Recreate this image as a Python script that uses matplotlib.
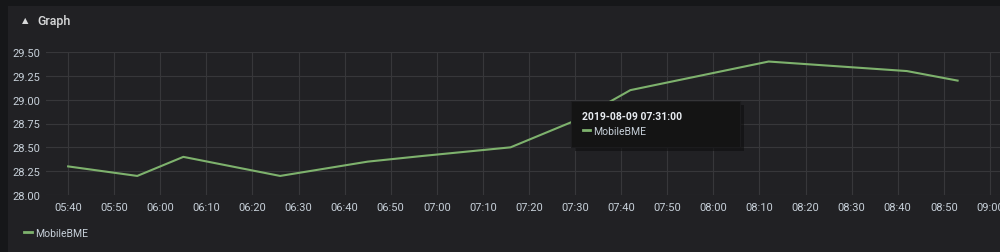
import matplotlib
matplotlib.use("Agg")
import matplotlib.pyplot as plt
import matplotlib.dates as mdates
from matplotlib.patches import Rectangle
from matplotlib.lines import Line2D
from datetime import datetime

# series (2019-08-09)
times = ["05:40", "05:55", "06:05", "06:26", "06:45", "06:57", "07:16",
         "07:31", "07:42", "08:12", "08:42", "08:53"]
values = [28.3, 28.2, 28.4, 28.2, 28.35, 28.41, 28.5,
          28.8, 29.1, 29.4, 29.3, 29.2]
y_ticks = [28.00, 28.25, 28.50, 28.75, 29.00, 29.25, 29.50]
series_name = "MobileBME"
tooltip_time = "2019-08-09 07:31:00"

day = "2019-08-09 "
x = [datetime.strptime(day + t, "%Y-%m-%d %H:%M") for t in times]

BG_OUTER = "#161719"
BG_PANEL = "#212124"
TEXT = "#c7d0d9"
GRID = "#37373a"
GREEN = "#7eb26d"

plt.rcParams["font.family"] = ["Roboto", "DejaVu Sans"]

fig = plt.figure(figsize=(10, 2.53), dpi=100)
fig.patch.set_facecolor(BG_OUTER)

# panel background (behind the axes)
fig.patches.append(Rectangle((8 / 1000, 0), 1.0, 1 - 7 / 253, transform=fig.transFigure,
                             facecolor=BG_PANEL, edgecolor="none", zorder=-5))

ax = fig.add_axes([46 / 1000, 57 / 253, 954 / 1000, 143 / 253])
ax.set_facecolor(BG_PANEL)
ax.plot(x, values, color=GREEN, lw=1.5, zorder=3)

ax.set_ylim(28.0, 29.5)
ax.set_yticks(y_ticks)
ax.set_yticklabels([f"{v:.2f}" for v in y_ticks])
ax.set_xlim(datetime.strptime(day + "05:35:12", "%Y-%m-%d %H:%M:%S"),
            datetime.strptime(day + "09:02:12", "%Y-%m-%d %H:%M:%S"))
ax.xaxis.set_major_locator(mdates.MinuteLocator(byminute=range(0, 60, 10)))
ax.xaxis.set_major_formatter(mdates.DateFormatter("%H:%M"))

ax.grid(True, color=GRID, lw=0.8)
ax.set_axisbelow(True)
for s in ax.spines.values():
    s.set_visible(False)
ax.tick_params(length=0, colors=TEXT, labelsize=8, pad=5)
ax.tick_params(axis="y", pad=4)

# panel title
fig.text(22 / 1000, 1 - 21 / 253, "\u25b2", color="#d8d9da", fontsize=6, va="center",
         ha="left", family=["DejaVu Sans"])
fig.text(37 / 1000, 1 - 21 / 253, "Graph", color="#d8d9da", fontsize=9, va="center",
         ha="left", fontweight="medium")

# legend
fig.lines.append(Line2D([24 / 1000, 32 / 1000], [1 - 233 / 253] * 2, transform=fig.transFigure,
                        color=GREEN, lw=2))
fig.text(35 / 1000, 1 - 234 / 253, series_name, color=TEXT, fontsize=7.5, va="center", ha="left")

# hover tooltip
fig.patches.append(Rectangle((575 / 1000, 1 - 152 / 253), 169 / 1000, 46 / 253,
                             transform=fig.transFigure, facecolor="#0e0e0f", edgecolor="none",
                             alpha=0.6, zorder=5))
fig.patches.append(Rectangle((571 / 1000, 1 - 148 / 253), 169 / 1000, 46 / 253,
                             transform=fig.transFigure, facecolor="#141414", edgecolor="#1c1c1e",
                             lw=0.8, zorder=6))
fig.text(582 / 1000, 1 - 117 / 253, tooltip_time, color="#e9edf2", fontsize=7.5,
         va="center", ha="left", fontweight="bold", zorder=7)
fig.lines.append(Line2D([583 / 1000, 590 / 1000], [1 - 131 / 253] * 2, transform=fig.transFigure,
                        color=GREEN, lw=2, zorder=7))
fig.text(593 / 1000, 1 - 132 / 253, series_name, color=TEXT, fontsize=7.5, va="center",
         ha="left", zorder=7)

fig.savefig("out.png", dpi=100, facecolor=fig.get_facecolor())
